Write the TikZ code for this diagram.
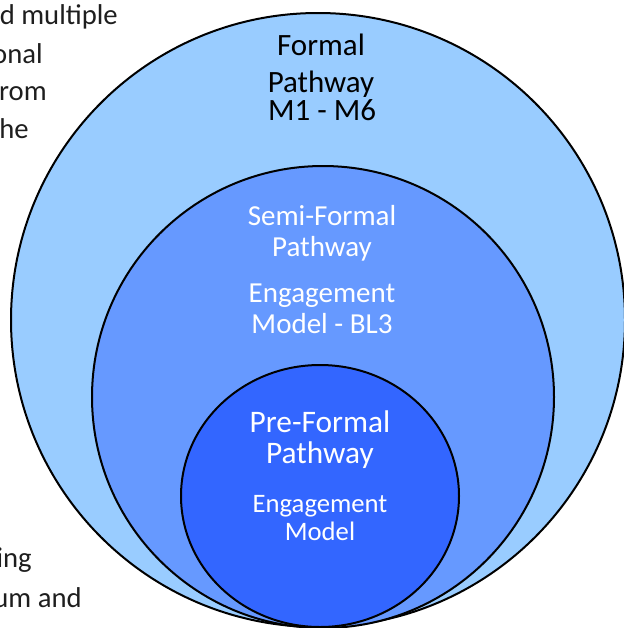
\documentclass[tikz,border=0pt]{standalone}
\usepackage{fontspec}
\setmainfont{Carlito}

\definecolor{formalblue}{RGB}{153,204,255}
\definecolor{semiblue}{RGB}{102,153,255}
\definecolor{preblue}{RGB}{51,102,255}
\definecolor{bodytext}{RGB}{30,30,30}

\newcommand{\pxfont}[1]{\fontsize{#1}{#1}\selectfont}

\begin{document}
\begin{tikzpicture}[x=0.75pt, y=-0.75pt,
    ring/.style={draw=black, line width=1.5pt},
    label/.style={anchor=base, inner sep=0pt},
    sidetext/.style={anchor=base east, inner sep=0pt, text=bodytext, font=\pxfont{21.5pt}}]
    \useasboundingbox (0, 0) rectangle (624, 628);

    % text of the slide running behind the circles
    \node[sidetext] (s1) at (118, 24) {d multiple};
    \node[sidetext] (s2) at (43, 63) {onal};
    \node[sidetext] (s3) at (47, 100) {rom};
    \node[sidetext] (s4) at (29, 138) {he};
    \node[sidetext] (s5) at (32, 567) {ing};
    \node[sidetext] (s6) at (82, 607) {um and};

    % nested pathways, all touching at the bottom
    \filldraw[ring, fill=formalblue] (318, 320) ellipse [x radius=307, y radius=-307];
    \filldraw[ring, fill=semiblue] (323, 397) ellipse [x radius=231, y radius=-231];
    \filldraw[ring, fill=preblue] (320, 496) ellipse [x radius=139, y radius=-131];

    \node[label, font=\pxfont{23.25pt}] (formal1) at (321, 55) {Formal};
    \node[label, font=\pxfont{23.25pt}] (formal2) at (321, 92) {Pathway};
    \node[label, font=\pxfont{23.25pt}] (formal3) at (322, 120) {M1 - M6};

    \node[label, text=white, font=\pxfont{21.75pt}] (semi1) at (322, 225) {Semi-Formal};
    \node[label, text=white, font=\pxfont{21.75pt}] (semi2) at (322, 256) {Pathway};
    \node[label, text=white, font=\pxfont{21.75pt}] (semi3) at (322, 302) {Engagement};
    \node[label, text=white, font=\pxfont{21.75pt}] (semi4) at (322, 333) {Model - BL3};

    \node[label, text=white, font=\pxfont{23.5pt}] (pre1) at (320, 432) {Pre-Formal};
    \node[label, text=white, font=\pxfont{23.5pt}] (pre2) at (320, 463) {Pathway};
    \node[label, text=white, font=\pxfont{20pt}] (pre3) at (320, 512) {Engagement};
    \node[label, text=white, font=\pxfont{20pt}] (pre4) at (320, 540) {Model};

\end{tikzpicture}
\end{document}
